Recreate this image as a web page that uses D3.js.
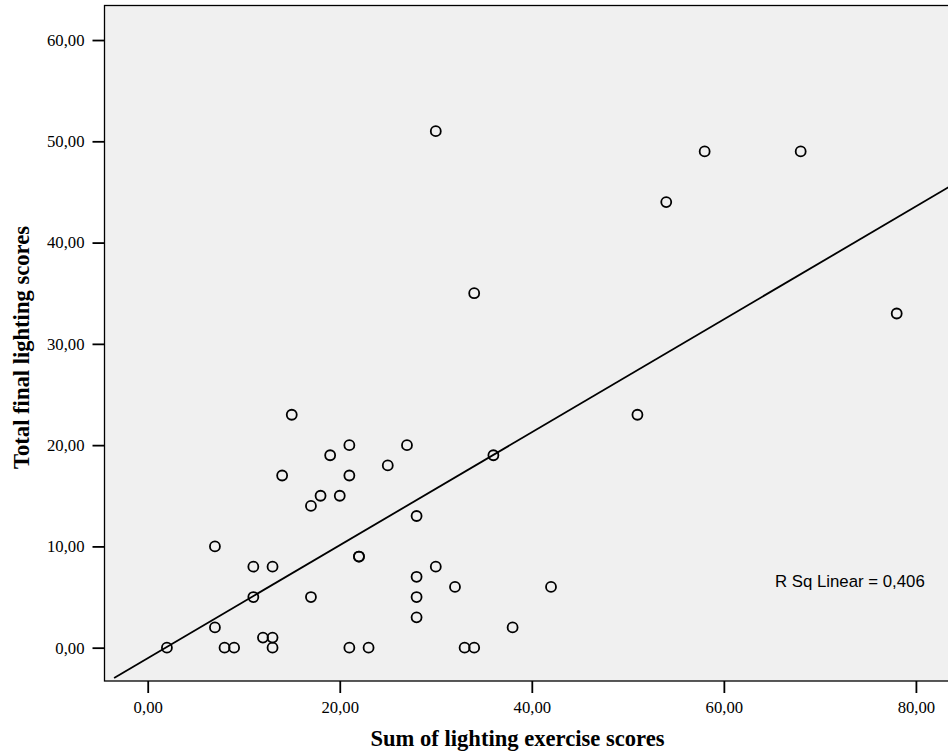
<!DOCTYPE html>
<html>
<head>
<meta charset="utf-8">
<script src="https://cdn.jsdelivr.net/npm/d3@7"></script>
<style>
  html, body { margin: 0; padding: 0; background: #fff; }
  svg { display: block; }
  .tick text { font-family: 'Liberation Serif', 'Times New Roman', serif; font-size: 16.7px; fill: #000; }
  .tick line { stroke: #000; stroke-width: 1.8; }
  .axis-title { font-family: 'Liberation Serif', 'Times New Roman', serif; font-weight: bold; font-size: 22.6px; fill: #000; }
  .fit-label { font-family: 'Liberation Sans', Arial, sans-serif; font-size: 16.8px; fill: #000; }
</style>
</head>
<body>
<div id="chart"></div>
<script>
// sum of lighting exercise scores (x) and total final lighting scores (y)
const exerciseScores = [2, 7, 7, 8, 9, 11, 11, 12, 13, 13, 13, 14, 15, 17, 17, 18, 19, 20, 21, 21, 21,
  22, 22, 23, 25, 27, 28, 28, 28, 28, 30, 30, 32, 33, 34, 34, 36, 38, 42, 51, 54, 58, 68, 78];
const finalScores = [0, 2, 10, 0, 0, 8, 5, 1, 1, 0, 8, 17, 23, 14, 5, 15, 19, 15, 20, 17, 0,
  9, 9, 0, 18, 20, 13, 7, 5, 3, 51, 8, 6, 0, 0, 35, 19, 2, 6, 23, 44, 49, 49, 33];
const xTicks = [0, 20, 40, 60, 80];
const yTicks = [0, 10, 20, 30, 40, 50, 60];
const xTitle = 'Sum of lighting exercise scores';
const yTitle = 'Total final lighting scores';
const rSquaredLabel = 'R Sq Linear = 0,406';
const fitStartX = -3.5;

const width = 948;
const height = 756;
const plot = { left: 104.5, top: 5.5, right: 950, bottom: 681 };

const points = exerciseScores.map((x, i) => ({ x, y: finalScores[i] }));

// least squares fit
const mx = d3.mean(points, d => d.x);
const my = d3.mean(points, d => d.y);
const sxy = d3.sum(points, d => (d.x - mx) * (d.y - my));
const sxx = d3.sum(points, d => (d.x - mx) ** 2);
const slope = sxy / sxx;
const intercept = my - slope * mx;

const x = d3.scaleLinear().domain([-4.5, 83.55]).range([plot.left, plot.right]);
const y = d3.scaleLinear().domain([-3.29, 63.41]).range([plot.bottom, plot.top]);

const comma = d => d.toFixed(2).replace('.', ',');

const svg = d3.select('#chart')
  .append('svg')
  .attr('width', width)
  .attr('height', height);

svg.append('rect')
  .attr('x', plot.left)
  .attr('y', plot.top)
  .attr('width', plot.right - plot.left)
  .attr('height', plot.bottom - plot.top)
  .attr('fill', '#f0f0f0')
  .attr('stroke', '#000')
  .attr('stroke-width', 1.3);

svg.append('g')
  .attr('transform', `translate(0, ${plot.bottom})`)
  .call(d3.axisBottom(x).tickValues(xTicks).tickFormat(comma).tickSize(12).tickPadding(8))
  .call(g => g.select('.domain').remove());

svg.append('g')
  .attr('transform', `translate(${plot.left}, 0)`)
  .call(d3.axisLeft(y).tickValues(yTicks).tickFormat(comma).tickSize(12).tickPadding(8))
  .call(g => g.select('.domain').remove());

const clip = svg.append('clipPath').attr('id', 'plot-clip')
  .append('rect')
  .attr('x', plot.left)
  .attr('y', plot.top)
  .attr('width', plot.right - plot.left)
  .attr('height', plot.bottom - plot.top);

const fitX = [fitStartX, x.domain()[1]];
svg.append('line')
  .attr('clip-path', 'url(#plot-clip)')
  .attr('x1', x(fitX[0]))
  .attr('y1', y(intercept + slope * fitX[0]))
  .attr('x2', x(fitX[1]))
  .attr('y2', y(intercept + slope * fitX[1]))
  .attr('stroke', '#000')
  .attr('stroke-width', 1.8);

svg.append('g')
  .selectAll('circle')
  .data(points)
  .join('circle')
  .attr('cx', d => x(d.x))
  .attr('cy', d => y(d.y))
  .attr('r', 5)
  .attr('fill', 'none')
  .attr('stroke', '#000')
  .attr('stroke-width', 1.8);

svg.append('text')
  .attr('class', 'fit-label')
  .attr('x', 775)
  .attr('y', 587)
  .text(rSquaredLabel);

svg.append('text')
  .attr('class', 'axis-title')
  .attr('text-anchor', 'middle')
  .attr('x', 517.5)
  .attr('y', 746)
  .text(xTitle);

svg.append('text')
  .attr('class', 'axis-title')
  .attr('text-anchor', 'middle')
  .attr('transform', 'translate(29, 347.5) rotate(-90)')
  .text(yTitle);
</script>
</body>
</html>
